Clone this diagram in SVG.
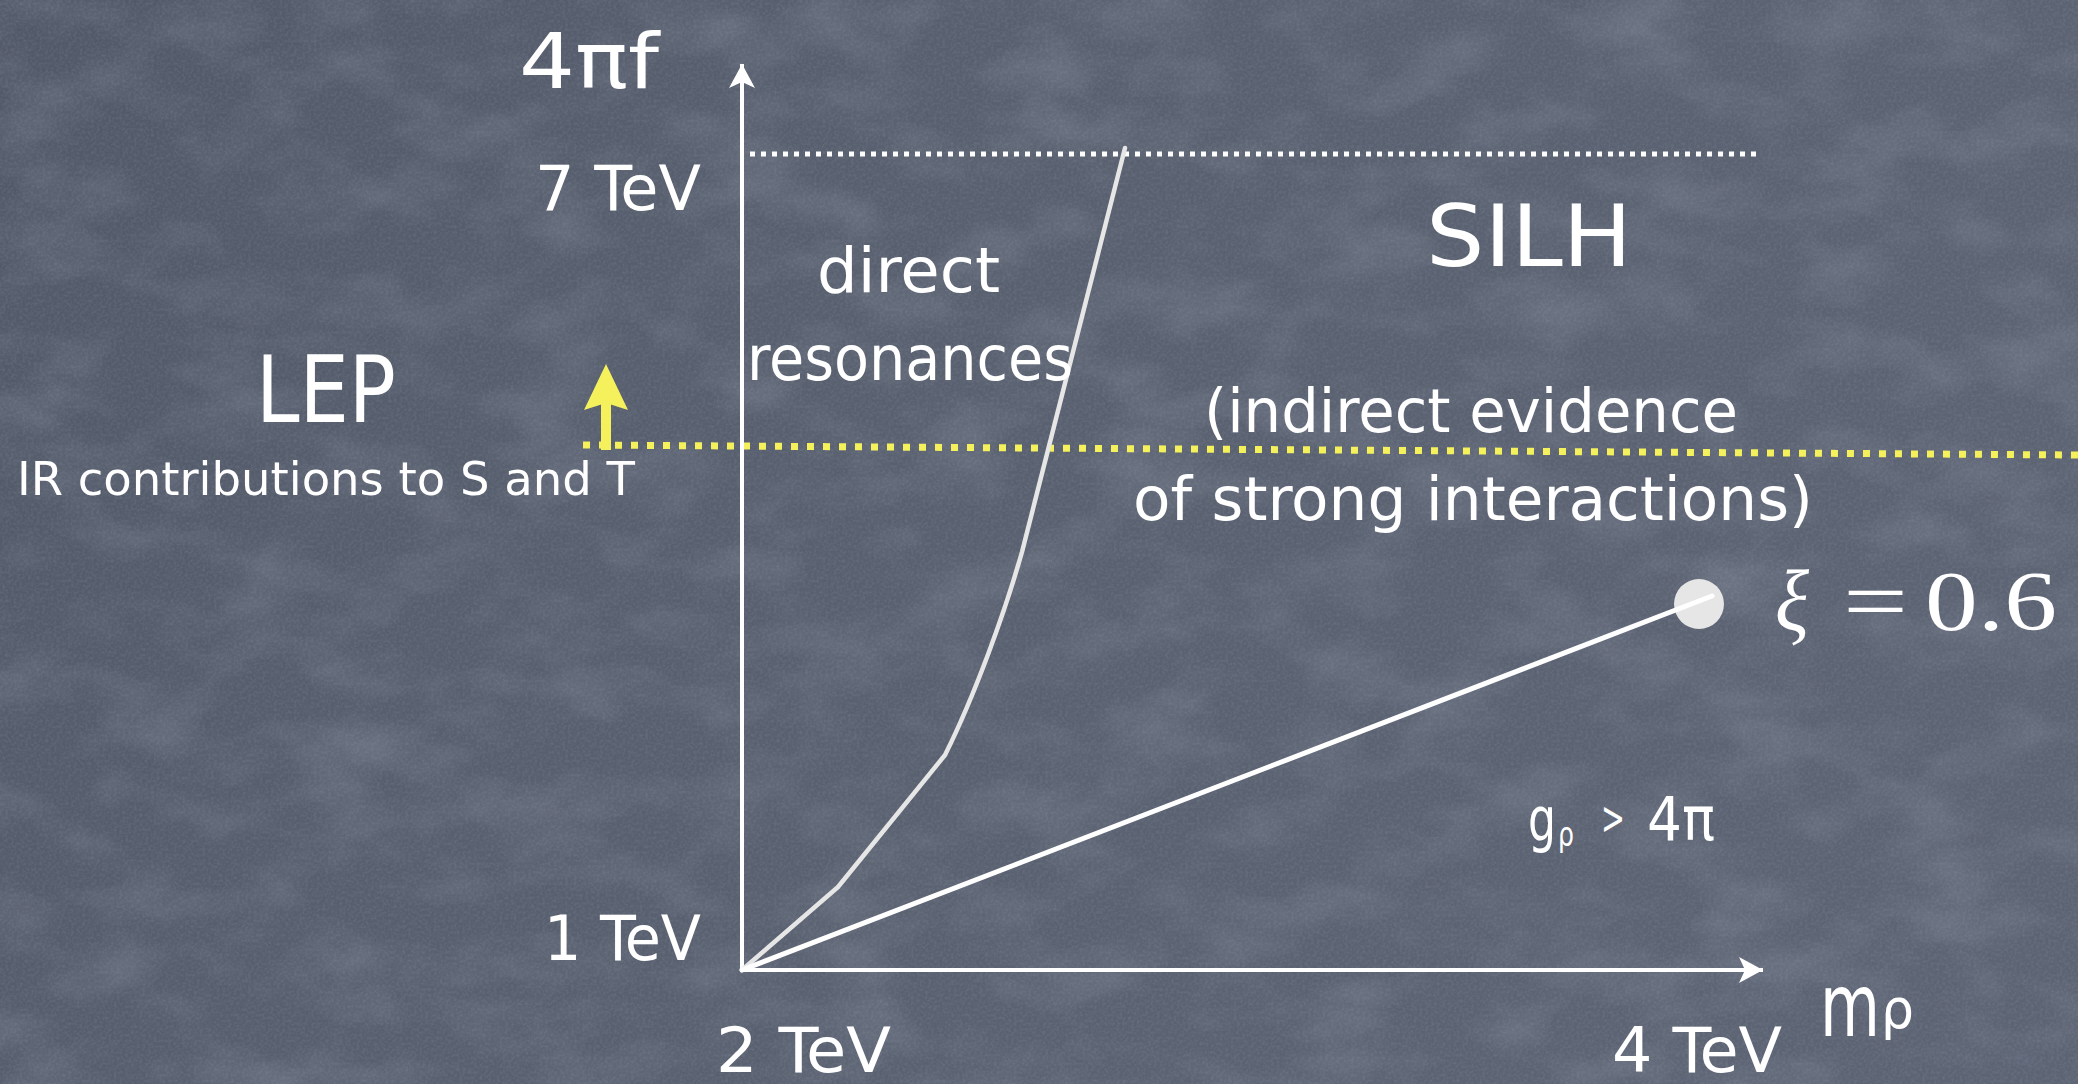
<svg xmlns="http://www.w3.org/2000/svg" width="2078" height="1084" viewBox="0 0 2078 1084">
  <defs>
    <linearGradient id="bg" x1="0" y1="0" x2="1" y2="0.3">
      <stop offset="0" stop-color="#515867"/>
      <stop offset="0.35" stop-color="#575e6d"/>
      <stop offset="1" stop-color="#5c6373"/>
    </linearGradient>
    <filter id="chalk" x="0" y="0" width="100%" height="100%">
      <feTurbulence type="fractalNoise" baseFrequency="0.01 0.018" numOctaves="4" seed="7"/>
      <feColorMatrix type="matrix" values="0 0 0 0 0.62  0 0 0 0 0.67  0 0 0 0 0.76  0.9 0 0 0 -0.38"/>
    </filter>
    <filter id="grain" x="0" y="0" width="100%" height="100%">
      <feTurbulence type="fractalNoise" baseFrequency="0.35" numOctaves="2" seed="2"/>
      <feColorMatrix type="matrix" values="0 0 0 0 0.5  0 0 0 0 0.55  0 0 0 0 0.65  0.5 0 0 0 -0.18"/>
    </filter>
    <marker id="wArrow" markerUnits="userSpaceOnUse" markerWidth="26" markerHeight="26" refX="24" refY="13" orient="auto">
      <path d="M0,0 L24,13 L0,26 L6,13 Z" fill="#ffffff"/>
    </marker>
    <style>
      .chalk { font-family: "Liberation Sans Narrow", "DejaVu Sans Condensed", "DejaVu Sans", sans-serif; fill: #ffffff; }
      .math { font-family: "Liberation Serif", "DejaVu Serif", serif; fill: #ffffff; }
      .axis { stroke: #ffffff; stroke-width: 4; fill: none; }
    </style>
  </defs>

  <g id="background">
    <rect x="0" y="0" width="2078" height="1084" fill="url(#bg)"/>
    <rect x="0" y="0" width="2078" height="1084" filter="url(#chalk)" opacity="0.35"/>
    <rect x="0" y="0" width="2078" height="1084" filter="url(#grain)" opacity="0.5"/>
  </g>

  <g id="connectors">
    <line id="line-7tev" x1="750" y1="154" x2="1760" y2="154" stroke="#ffffff" stroke-width="5" stroke-dasharray="5 6"/>
    <line id="line-lep" x1="583" y1="445" x2="2078" y2="455" stroke="#f4f15c" stroke-width="7" stroke-dasharray="7 9"/>
    <g id="lep-arrow">
      <rect x="601" y="400" width="10" height="50" fill="#f4f15c"/>
      <path d="M606,364 L628,410 L606,403 L584,410 Z" fill="#f4f15c"/>
    </g>
    <line id="y-axis" class="axis" x1="742" y1="972" x2="742" y2="64" marker-end="url(#wArrow)"/>
    <line id="x-axis" class="axis" x1="740" y1="970" x2="1763" y2="970" marker-end="url(#wArrow)"/>
    <path id="resonance-curve" d="M742,970 L838,887 L945,755 C975,695 1005,612 1022,552 L1125,148" fill="none" stroke="#e6e6e6" stroke-width="4.5" stroke-linejoin="round" stroke-linecap="round"/>
  </g>

  <g id="xi-point">
    <ellipse cx="1699" cy="604" rx="25" ry="25" fill="#e6e6e6"/>
    <line x1="742" y1="970" x2="1712" y2="596" stroke="#ffffff" stroke-width="5" stroke-linecap="round"/>
  </g>

  <g id="labels">
    <text id="lbl-4pif" class="chalk" x="519" y="88" font-size="76" textLength="140" lengthAdjust="spacingAndGlyphs">4πf</text>
    <text id="lbl-7tev" class="chalk" x="535" y="210" font-size="62" textLength="166" lengthAdjust="spacingAndGlyphs">7 TeV</text>
    <text id="lbl-1tev" class="chalk" x="544" y="960" font-size="62" textLength="157" lengthAdjust="spacingAndGlyphs">1 TeV</text>
    <text id="lbl-2tev" class="chalk" x="716" y="1072" font-size="62" textLength="175" lengthAdjust="spacingAndGlyphs">2 TeV</text>
    <text id="lbl-4tev" class="chalk" x="1612" y="1072" font-size="62" textLength="170" lengthAdjust="spacingAndGlyphs">4 TeV</text>
    <text id="lbl-mrho" class="chalk" font-size="88"><tspan x="1820" y="1036" textLength="60" lengthAdjust="spacingAndGlyphs">m</tspan><tspan x="1881" y="1028" font-size="56" textLength="33" lengthAdjust="spacingAndGlyphs">ρ</tspan></text>
    <text id="lbl-direct" class="chalk" x="817" y="292" font-size="62" textLength="183" lengthAdjust="spacingAndGlyphs">direct</text>
    <text id="lbl-resonances" class="chalk" x="747" y="380" font-size="62" textLength="326" lengthAdjust="spacingAndGlyphs">resonances</text>
    <text id="lbl-silh" class="chalk" x="1426" y="266" font-size="86" textLength="206" lengthAdjust="spacingAndGlyphs">SILH</text>
    <text id="lbl-lep" class="chalk" x="256" y="422" font-size="92" textLength="140" lengthAdjust="spacingAndGlyphs">LEP</text>
    <text id="lbl-ir" class="chalk" x="17" y="495" font-size="46" textLength="618" lengthAdjust="spacingAndGlyphs">IR contributions to S and T</text>
    <text id="lbl-indirect1" class="chalk" x="1204" y="432" font-size="60" textLength="534" lengthAdjust="spacingAndGlyphs">(indirect evidence</text>
    <text id="lbl-indirect2" class="chalk" x="1133" y="520" font-size="60" textLength="680" lengthAdjust="spacingAndGlyphs">of strong interactions)</text>
    <text id="lbl-grho" class="chalk" font-size="60"><tspan x="1528" y="840" textLength="28" lengthAdjust="spacingAndGlyphs">g</tspan><tspan x="1558" y="846" font-size="34" textLength="16" lengthAdjust="spacingAndGlyphs">ρ</tspan><tspan x="1601" y="834" font-size="46" textLength="24" lengthAdjust="spacingAndGlyphs">&gt;</tspan><tspan x="1647" y="840" textLength="68" lengthAdjust="spacingAndGlyphs">4π</tspan></text>
    <text id="lbl-xi" class="math" x="1775" y="630" font-size="86" font-style="italic" textLength="34" lengthAdjust="spacingAndGlyphs">ξ</text>
    <text id="lbl-eq" class="math" x="1843" y="630" font-size="84" textLength="65" lengthAdjust="spacingAndGlyphs">=</text>
    <text id="lbl-06" class="math" x="1925" y="630" font-size="84" textLength="132" lengthAdjust="spacingAndGlyphs">0.6</text>
  </g>
</svg>
